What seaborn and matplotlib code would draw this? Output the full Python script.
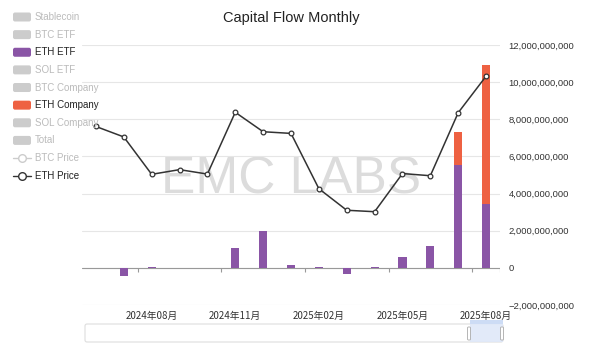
import numpy as np
import pandas as pd
import matplotlib
matplotlib.use("Agg")
import matplotlib.pyplot as plt
import seaborn as sns
from matplotlib.patches import FancyBboxPatch, Rectangle
from matplotlib.lines import Line2D
from matplotlib.ticker import FuncFormatter

# ---------------- data ----------------
months = ["2024-06", "2024-07", "2024-08", "2024-09", "2024-10", "2024-11", "2024-12",
          "2025-01", "2025-02", "2025-03", "2025-04", "2025-05", "2025-06", "2025-07", "2025-08"]
tick_positions = [2, 5, 8, 11, 14]
tick_labels = ["2024年08月", "2024年11月", "2025年02月", "2025年05月", "2025年08月"]
# net flows in billions USD
eth_etf = [0.0, -0.45, 0.02, -0.03, 0.0, 1.05, 2.00, 0.13, 0.07, -0.34, 0.07, 0.56, 1.18, 5.53, 3.45]
eth_company = [0.0, 0.0, 0.0, 0.0, 0.0, 0.0, 0.0, 0.0, 0.0, 0.0, 0.0, 0.0, 0.0, 1.77, 7.47]
eth_price = [3433, 3232, 2513, 2603, 2518, 3706, 3332, 3300, 2237, 1822, 1794, 2528, 2486, 3698, 4400]
legend_names = ["Stablecoin", "BTC ETF", "ETH ETF", "SOL ETF", "BTC Company", "ETH Company",
                "SOL Company", "Total", "BTC Price", "ETH Price"]
legend_active = ["ETH ETF", "ETH Company", "ETH Price"]

PURPLE = "#8A55A6"
ORANGE = "#EE6142"
INACTIVE = "#cccccc"
LINE = "#333333"

sns.set_theme(style="white")
plt.rcParams["font.family"] = ["Liberation Sans", "Noto Sans CJK SC", "DejaVu Sans"]

W, H = 600, 356
fig = plt.figure(figsize=(W / 100, H / 100), dpi=100)
ax = fig.add_axes([82 / W, 1 - 305 / H, 418 / W, 260 / H])

df = pd.DataFrame({
    "month": months,
    "etf": np.array(eth_etf) * 1e9,
    "total": (np.array(eth_etf) + np.array(eth_company)) * 1e9,
})

sns.barplot(data=df, x="month", y="total", color=ORANGE, saturation=1, width=0.29,
            linewidth=0, errorbar=None, ax=ax, zorder=2)
sns.barplot(data=df, x="month", y="etf", color=PURPLE, saturation=1, width=0.29,
            linewidth=0, errorbar=None, ax=ax, zorder=3)

# price line on hidden axis
ax2 = ax.twinx()
sns.lineplot(x=np.arange(len(months)), y=eth_price, ax=ax2, color=LINE, lw=1.1,
             marker="o", markersize=3.4, markerfacecolor="white", markeredgecolor=LINE,
             markeredgewidth=0.9)
ax2.set_ylim(0, 5000)
ax2.axis("off")

ax.set_ylim(-2e9, 12e9)
ax.set_yticks(np.arange(-2e9, 12.1e9, 2e9))
ax.yaxis.tick_right()
ax.yaxis.set_label_position("right")
ax.yaxis.set_major_formatter(FuncFormatter(lambda v, p: ("\u2212" if v < 0 else "") + f"{abs(v):,.0f}"))
ax.tick_params(axis="y", length=0, pad=6, labelsize=6.8, labelcolor="#333333",
               left=False, labelleft=False, right=False, labelright=True)
ax.grid(axis="y", color="#e6e6e6", linewidth=0.8)
ax.grid(axis="x", visible=False)
ax.set_axisbelow(True)
for s in ax.spines.values():
    s.set_visible(False)
ax.axhline(0, color="#999999", lw=0.8, zorder=1.5)
ax.vlines([1.5, 4.5, 7.5, 10.5, 13.5, 14.5], -0.2e9, 0, color="#999999", lw=0.8)

ax.set_xticks(tick_positions)
ax.set_xticklabels(tick_labels, fontfamily=["Noto Sans CJK SC", "DejaVu Sans"], fontsize=7, color="#333333")
ax.tick_params(axis="x", length=0, pad=4)
ax.set_xlabel("")
ax.set_ylabel("")
ax.set_xlim(-0.5, len(months) - 0.5)

# watermark
ax.text(291.5 / W, 1 - 193 / H, "EMC LABS", transform=fig.transFigure, fontsize=37,
        color="#dcdcdc", ha="center", va="baseline", zorder=0.5)

# title
fig.text(291 / W, 1 - 18 / H, "Capital Flow Monthly", ha="center", va="center",
         fontsize=10.5, color="#222222")

# legend (manual, pixel-based)
T = fig.dpi_scale_trans
def px(x, y):
    return x / 100, (H - y) / 100

for i, name in enumerate(legend_names):
    yc = 17 + i * 17.63
    active = name in legend_active
    if "Price" in name:
        col = LINE if active else INACTIVE
        x0, y0 = px(13, yc)
        x1, _ = px(31, yc)
        xm, _ = px(22, yc)
        fig.add_artist(Line2D([x0, x1], [y0, y0], transform=T, color=col, lw=1))
        fig.add_artist(Line2D([xm], [y0], transform=T, color=col, marker="o", markersize=5.5,
                              markerfacecolor="white", markeredgecolor=col, markeredgewidth=1))
    else:
        col = {"ETH ETF": PURPLE, "ETH Company": ORANGE}.get(name, INACTIVE)
        x0, y0 = px(13, yc + 4.5)
        fig.add_artist(FancyBboxPatch((x0, y0), 0.18, 0.09, transform=T,
                                      boxstyle="round,pad=0,rounding_size=0.02",
                                      facecolor=col, edgecolor="none"))
    tx, ty = px(35, yc)
    fig.text(tx, ty, name, transform=T, fontsize=7, va="center", ha="left",
             color="#222222" if active else "#bbbbbb")

# data-zoom slider decoration
sx0, sy0 = px(85, 342)
fig.add_artist(FancyBboxPatch((sx0, sy0), (503 - 85) / 100, 0.18, transform=T,
                              boxstyle="round,pad=0,rounding_size=0.02",
                              facecolor="white", edgecolor="#dddddd", lw=0.8))
bx0, by0 = px(470, 342)
fig.add_artist(Rectangle((bx0, by0), 0.33, 0.18, transform=T, facecolor="#dfe8f9",
                         edgecolor="none", alpha=0.9))
tbx, tby = px(470, 324)
fig.add_artist(Rectangle((tbx, tby), 0.33, 0.04, transform=T, facecolor="#cddcf5",
                         edgecolor="none"))
for hx in (469, 502):
    hx0, hy0 = px(hx - 1.5, 340)
    fig.add_artist(FancyBboxPatch((hx0, hy0), 0.03, 0.13, transform=T,
                                  boxstyle="round,pad=0,rounding_size=0.01",
                                  facecolor="white", edgecolor="#aaaaaa", lw=0.6))

fig.savefig("out.png", dpi=100)
